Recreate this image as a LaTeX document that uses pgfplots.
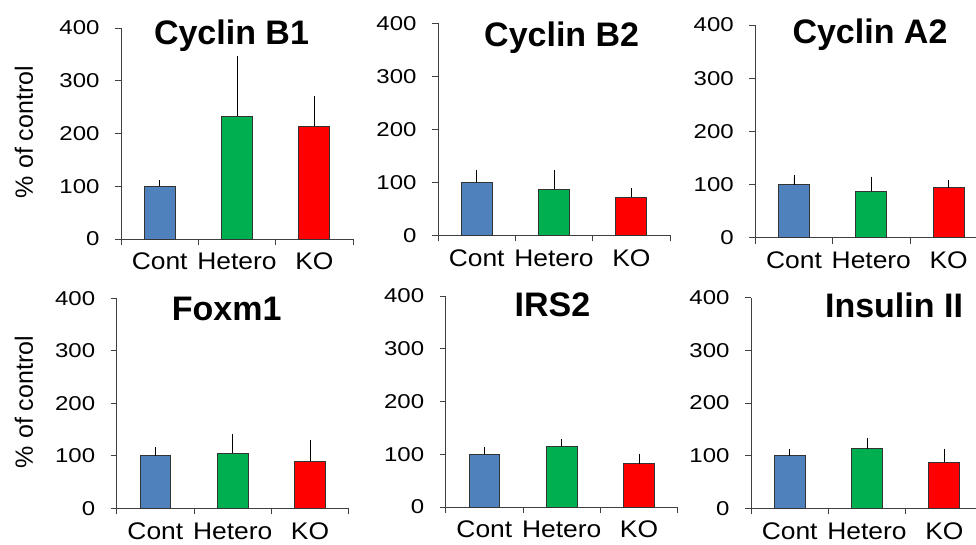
\documentclass[border=0pt]{standalone}
\usepackage{pgfplots}
\pgfplotsset{compat=1.18}
\usepackage{fontspec}
\setmainfont{Liberation Sans}
\newfontfamily\tickfont{Liberation Sans}[FakeStretch=1.2]
\newfontfamily\xlabfont{Liberation Sans}[FakeStretch=1.1]
\definecolor{cblue}{HTML}{4F81BD}
\definecolor{cgreen}{HTML}{00B050}
\definecolor{cred}{HTML}{FF0000}
\pgfplotsset{
  panel/.style={
    scale only axis, width=232pt, height=211pt,
    xmin=0, xmax=3, ymin=0, ymax=400,
    axis x line=bottom, axis y line=left,
    axis line style={-, black!75, line width=0.9pt},
    tick align=outside, major tick length=6pt,
    tick style={black!75, line width=0.9pt},
    xtick={0,1,2,3}, xticklabels={,,,},
    extra x ticks={0.5,1.5,2.5},
    extra x tick labels={Cont,Hetero,KO},
    extra x tick style={major tick length=0pt, tick style={draw=none}},
    xticklabel style={font=\xlabfont\fontsize{24}{24}\selectfont, inner sep=0pt, yshift=-14pt},
    ytick={0,100,200,300,400},
    yticklabel style={font=\tickfont\fontsize{20}{20}\selectfont, xshift=-12pt},
    /pgf/number format/assume math mode=true,
    clip=false,
  },
  bar/.style={ybar, bar width=0.4, bar shift=0pt, draw=black!80, line width=0.8pt, fill=#1,
    error bars/.cd, y dir=plus, y explicit,
    error bar style={black, line width=0.8pt},
    error mark options={black, mark size=3pt, line width=0.8pt}},
}
\begin{document}
\begin{tikzpicture}[x=1pt,y=1pt]
\useasboundingbox (0,0) rectangle (976,544);
\clip (0,0) rectangle (976,544);
% Panel 1: Cyclin B1
\begin{axis}[panel, at={(121pt,305pt)}, anchor=south west, height=211pt]
\addplot[bar=cblue] coordinates {(0.5,100) +- (0,6)};
\addplot[bar=cgreen] coordinates {(1.5,233) +- (0,108)};
\addplot[bar=cred] coordinates {(2.5,214) +- (0,51)};
\end{axis}
% Panel 2: Cyclin B2
\begin{axis}[panel, at={(438pt,308.7pt)}, anchor=south west, height=212pt]
\addplot[bar=cblue] coordinates {(0.5,100) +- (0,17)};
\addplot[bar=cgreen] coordinates {(1.5,87) +- (0,30)};
\addplot[bar=cred] coordinates {(2.5,72) +- (0,11)};
\end{axis}
% Panel 3: Cyclin A2
\begin{axis}[panel, at={(755.3pt,306.3pt)}, anchor=south west, height=212.7pt]
\addplot[bar=cblue] coordinates {(0.5,100) +- (0,13)};
\addplot[bar=cgreen] coordinates {(1.5,87) +- (0,22)};
\addplot[bar=cred] coordinates {(2.5,94) +- (0,9)};
\end{axis}
% Panel 4: Foxm1
\begin{axis}[panel, at={(116.7pt,35.7pt)}, anchor=south west, height=210pt]
\addplot[bar=cblue] coordinates {(0.5,100) +- (0,11)};
\addplot[bar=cgreen] coordinates {(1.5,105) +- (0,31)};
\addplot[bar=cred] coordinates {(2.5,90) +- (0,35)};
\end{axis}
% Panel 5: IRS2
\begin{axis}[panel, at={(445.7pt,37pt)}, anchor=south west, height=211pt]
\addplot[bar=cblue] coordinates {(0.5,100) +- (0,9)};
\addplot[bar=cgreen] coordinates {(1.5,115) +- (0,9)};
\addplot[bar=cred] coordinates {(2.5,82) +- (0,13)};
\end{axis}
% Panel 6: Insulin II
\begin{axis}[panel, at={(751pt,35.7pt)}, anchor=south west, height=210.6pt]
\addplot[bar=cblue] coordinates {(0.5,100) +- (0,7)};
\addplot[bar=cgreen] coordinates {(1.5,113) +- (0,14)};
\addplot[bar=cred] coordinates {(2.5,88) +- (0,18)};
\end{axis}
% Titles
\begin{scope}[every node/.style={font=\bfseries\fontsize{34}{34}\selectfont, anchor=base, inner sep=0pt}]
\node at (231.5,499) {Cyclin B1};
\node at (561.7,497.3) {Cyclin B2};
\node at (870,500.7) {Cyclin A2};
\node at (226.7,224) {Foxm1};
\node at (552.5,227.3) {IRS2};
\node at (894,226.3) {Insulin II};
\end{scope}
% y labels
\begin{scope}[every node/.style={font=\fontsize{25}{25}\selectfont, rotate=90, inner sep=0pt}]
\node at (24,412) {\% of control};
\node at (24,142) {\% of control};
\end{scope}
\end{tikzpicture}
\end{document}
